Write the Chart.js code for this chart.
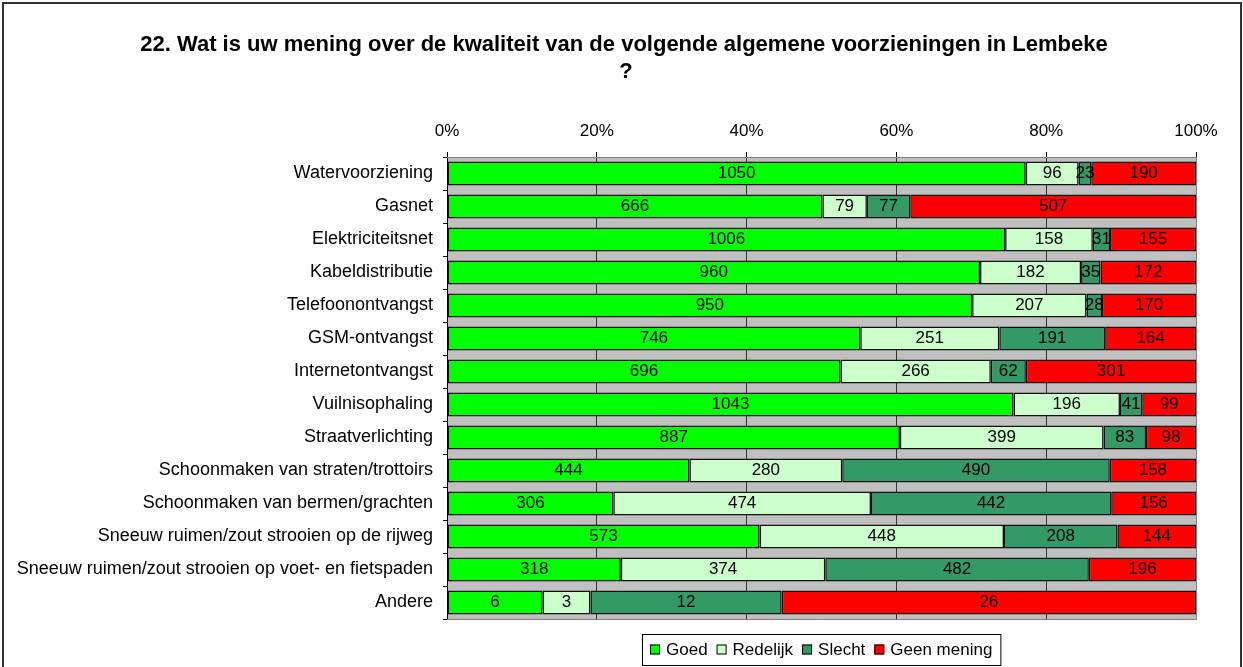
<!DOCTYPE html>
<html>
<head>
<meta charset="utf-8">
<script src="https://cdn.jsdelivr.net/npm/chart.js@4.4.1/dist/chart.umd.min.js"></script>
<style>
html,body{margin:0;padding:0;background:#fff;overflow:hidden;}
#wrap{position:absolute;left:0;top:0;width:1243px;height:667px;}
</style>
</head>
<body>
<div id="wrap"><canvas id="c" width="1243" height="667"></canvas></div>
<script>
const titleLines = ["22. Wat is uw mening over de kwaliteit van de volgende algemene voorzieningen in Lembeke", "?"];
const categories = [
  "Watervoorziening","Gasnet","Elektriciteitsnet","Kabeldistributie","Telefoonontvangst",
  "GSM-ontvangst","Internetontvangst","Vuilnisophaling","Straatverlichting",
  "Schoonmaken van straten/trottoirs","Schoonmaken van bermen/grachten",
  "Sneeuw ruimen/zout strooien op de rijweg","Sneeuw ruimen/zout strooien op voet- en fietspaden","Andere"
];
const seriesNames = ["Goed","Redelijk","Slecht","Geen mening"];
const goed       = [1050,666,1006,960,950,746,696,1043,887,444,306,573,318,6];
const redelijk   = [96,79,158,182,207,251,266,196,399,280,474,448,374,3];
const slecht     = [23,77,31,35,28,191,62,41,83,490,442,208,482,12];
const geenMening = [190,507,155,172,170,164,301,99,98,158,156,144,196,26];
const xTicks = [0,20,40,60,80,100];

const colors = ["#00FF00","#CCFFCC","#339966","#FF0000"];
const FONT = '"Liberation Sans", Arial, sans-serif';
const counts = [goed, redelijk, slecht, geenMening];
const totals = categories.map((_, i) => counts.reduce((s, a) => s + a[i], 0));
const pct = counts.map(a => a.map((v, i) => v / totals[i] * 100));

const AREA = {left:447, right:1196, top:157, bottom:619};

const decor = {
  id: 'decor',
  beforeDraw(chart) {
    const ctx = chart.ctx, a = chart.chartArea;
    ctx.save();
    ctx.fillStyle = '#C0C0C0';
    ctx.fillRect(a.left, a.top, a.right - a.left, a.bottom - a.top);
    ctx.restore();
  },
  afterDatasetsDraw(chart) {
    const ctx = chart.ctx;
    ctx.save();
    ctx.font = '17px ' + FONT;
    ctx.fillStyle = '#000';
    ctx.textAlign = 'center';
    ctx.textBaseline = 'middle';
    chart.data.datasets.forEach((ds, di) => {
      const meta = chart.getDatasetMeta(di);
      meta.data.forEach((el, i) => {
        const cx = (el.x + el.base) / 2;
        ctx.fillText(String(ds.raw[i]), cx, el.y);
      });
    });
    ctx.restore();
  },
  afterDraw(chart) {
    const ctx = chart.ctx, a = chart.chartArea;
    ctx.save();
    // plot border
    ctx.strokeStyle = '#808080';
    ctx.lineWidth = 1;
    ctx.beginPath();
    ctx.moveTo(a.left, a.top + 0.5); ctx.lineTo(a.right + 0.5, a.top + 0.5);
    ctx.lineTo(a.right + 0.5, a.bottom + 0.5); ctx.lineTo(a.left, a.bottom + 0.5);
    ctx.stroke();
    // outer border
    ctx.strokeStyle = '#333';
    ctx.lineWidth = 2;
    ctx.strokeRect(3, 3, 1238, 700);
    // title
    ctx.fillStyle = '#000';
    ctx.font = 'bold 22px ' + FONT;
    ctx.textAlign = 'center';
    ctx.textBaseline = 'middle';
    ctx.fillText(titleLines[0], 624, 45);
    ctx.fillText(titleLines[1], 626, 72);
    // legend
    ctx.font = '17px ' + FONT;
    const sq = 10, gapT = 6, gapI = 9, padX = 8;
    const widths = seriesNames.map(n => ctx.measureText(n).width);
    let total = padX * 2;
    widths.forEach((w, i) => { total += sq + gapT + w + (i < widths.length - 1 ? gapI : 0); });
    const cxL = (a.left + a.right) / 2;
    const lx = Math.round(cxL - total / 2), ly = 634, lh = 31;
    ctx.fillStyle = '#fff';
    ctx.fillRect(lx, ly, total, lh);
    ctx.strokeStyle = '#000';
    ctx.lineWidth = 1;
    ctx.strokeRect(lx + 0.5, ly + 0.5, total, lh);
    let x = lx + padX;
    const my = ly + lh / 2;
    ctx.textAlign = 'left';
    seriesNames.forEach((n, i) => {
      ctx.fillStyle = colors[i];
      ctx.fillRect(x, my - 5, sq, sq);
      ctx.strokeStyle = '#000';
      ctx.strokeRect(x + 0.5, my - 5 + 0.5, sq - 1, sq - 1);
      x += sq + gapT;
      ctx.fillStyle = '#000';
      ctx.fillText(n, x, my + 1);
      x += widths[i] + gapI;
    });
    ctx.restore();
  }
};

new Chart(document.getElementById('c'), {
  type: 'bar',
  data: {
    labels: categories,
    datasets: seriesNames.map((n, i) => ({
      label: n,
      data: pct[i],
      raw: counts[i],
      backgroundColor: colors[i],
      borderColor: '#111',
      borderWidth: 1.5,
      borderSkipped: false,
      barPercentage: 0.73,
      categoryPercentage: 1.0
    }))
  },
  options: {
    indexAxis: 'y',
    responsive: false,
    animation: false,
    layout: { padding: { left: 0, top: 0, right: 1243 - AREA.right, bottom: 667 - AREA.bottom } },
    plugins: { legend: { display: false }, title: { display: false }, tooltip: { enabled: false } },
    scales: {
      x: {
        position: 'top',
        stacked: true,
        min: 0, max: 100,
        afterBuildTicks(s) { s.ticks = xTicks.map(v => ({ value: v })); },
        afterFit(s) { s.height = AREA.top; },
        ticks: {
          callback: v => v + '%',
          font: { family: FONT, size: 17 },
          color: '#000',
          padding: 10,
          maxRotation: 0
        },
        grid: { color: '#333', tickColor: '#000', tickLength: 5, lineWidth: 1 },
        border: { color: '#808080', width: 1 }
      },
      y: {
        stacked: true,
        afterFit(s) { s.width = AREA.left; },
        ticks: {
          font: { family: FONT, size: 18 },
          color: '#000',
          padding: 10,
          autoSkip: false
        },
        grid: { drawOnChartArea: false, drawTicks: true, tickLength: 4, color: '#000', offset: true },
        border: { color: '#000', width: 1 }
      }
    }
  },
  plugins: [decor]
});
</script>
</body>
</html>
